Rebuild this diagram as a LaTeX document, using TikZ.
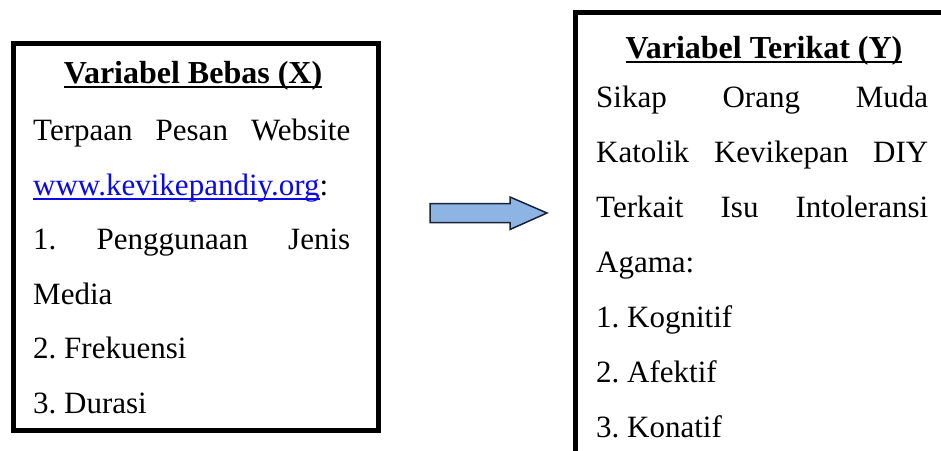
\documentclass[tikz,border=0pt]{standalone}
\usepackage{fontspec}
\setmainfont{Liberation Serif}
\usetikzlibrary{calc}
\definecolor{linkblue}{RGB}{10,10,225}
\definecolor{arrowfill}{RGB}{142,180,227}
\definecolor{arrowline}{RGB}{25,35,55}
\newcommand{\myul}[1]{{\setbox0\hbox{#1}\rlap{\rule[-4.5pt]{\wd0}{1.6pt}}\box0}}
\begin{document}
\begin{tikzpicture}[x=1pt,y=-1pt,
  txt/.style={anchor=base west,inner sep=0pt,font=\fontsize{31}{37}\selectfont\frenchspacing},
  head/.style={anchor=base,inner sep=0pt,font=\fontsize{32}{38}\selectfont\bfseries\frenchspacing},
  frame/.style={draw=black,line width=5pt,inner sep=0pt,anchor=north west},
  blockarrow/.style={fill=arrowfill,draw=arrowline,line width=1.5pt,line join=miter}]
\useasboundingbox (0,0) rectangle (941,450);
\clip (0,0) rectangle (941,450);
% boxes
\node[frame,minimum width=365pt,minimum height=387pt] (boxX) at (10.5,40.5) {};
\node[frame,minimum width=385pt,minimum height=441pt] (boxY) at (572.5,9.5) {};
% left box text
\node[head] (hx) at (193,83) {\myul{Variabel Bebas (X)}};
\node[txt] (x1) at (33,140.5) {\makebox[317pt][s]{Terpaan Pesan Website}};
\node[txt] (x2) at (33,195) {{\color{linkblue}\myul{www.kevikepandiy.org}}\textcolor{black}{:}};
\node[txt] (x3) at (33,249.5) {\makebox[317pt][s]{1. Penggunaan Jenis}};
\node[txt] (x4) at (33,304) {Media};
\node[txt] (x5) at (33,358.5) {2. Frekuensi};
\node[txt] (x6) at (33,413) {3. Durasi};
% right box text
\node[head] (hy) at (764,58) {\myul{Variabel Terikat (Y)}};
\node[txt] (y1) at (596,107.5) {\makebox[332pt][s]{Sikap Orang Muda}};
\node[txt] (y2) at (596,162) {\makebox[332pt][s]{Katolik Kevikepan DIY}};
\node[txt] (y3) at (596,217) {\makebox[332pt][s]{Terkait Isu Intoleransi}};
\node[txt] (y4) at (596,272) {Agama:};
\node[txt] (y5) at (596,327) {1. Kognitif};
\node[txt] (y6) at (596,382.5) {2. Afektif};
\node[txt] (y7) at (596,437) {3. Konatif};
% block arrow
\coordinate (aS) at (430,213);
\coordinate (aT) at (547,213);
\draw[blockarrow] ($(aS)+(0,-9.5)$) -- ++(80,0) -- ++(0,-6.5) -- (aT)
  -- ($(aS)+(80,16.5)$) -- ++(0,-7) -- ($(aS)+(0,9.5)$) -- cycle;
\end{tikzpicture}
\end{document}
